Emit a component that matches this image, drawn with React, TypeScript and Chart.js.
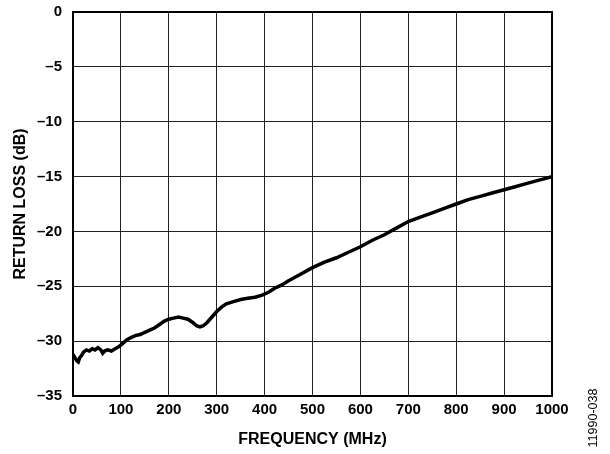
import React, { useEffect, useRef } from "react";
import { Chart, registerables } from "chart.js";

Chart.register(...registerables);

const freqMHz = [
  0, 4, 8, 11, 14, 18, 22, 28, 34, 40, 46, 52, 58, 62, 66, 72, 80, 88, 96, 104,
  112, 120, 130, 140, 150, 160, 170, 180, 190, 200, 210, 220, 230, 240, 250, 258,
  265, 272, 280, 290, 300, 310, 320, 335, 350, 365, 380, 395, 410, 420, 435, 450,
  475, 500, 525, 550, 575, 600, 625, 650, 675, 700, 725, 750, 775, 800, 825, 850,
  875, 900, 925, 950, 975, 1000,
];
const returnLossDb = [
  -31.2, -31.5, -31.8, -31.9, -31.5, -31.3, -31.0, -30.8, -30.9, -30.7, -30.8,
  -30.6, -30.8, -31.1, -30.9, -30.8, -30.9, -30.7, -30.5, -30.2, -29.9, -29.7,
  -29.5, -29.4, -29.2, -29.0, -28.8, -28.5, -28.2, -28.0, -27.9, -27.8, -27.9,
  -28.0, -28.3, -28.6, -28.7, -28.6, -28.3, -27.8, -27.3, -26.9, -26.6, -26.4,
  -26.2, -26.1, -26.0, -25.8, -25.5, -25.2, -24.9, -24.5, -23.9, -23.3, -22.8,
  -22.4, -21.9, -21.4, -20.8, -20.3, -19.7, -19.1, -18.7, -18.3, -17.9, -17.5,
  -17.1, -16.8, -16.5, -16.2, -15.9, -15.6, -15.3, -15.0,
];
const xTitle = "FREQUENCY (MHz)";
const yTitle = "RETURN LOSS (dB)";
const sideNote = "11990-038";

export default function App() {
  const ref = useRef<HTMLCanvasElement>(null);

  useEffect(() => {
    document.body.style.margin = "0";
    const canvas = ref.current;
    if (!canvas) return;
    const font = "'Liberation Sans', Arial, sans-serif";

    const framePlugin = {
      id: "frame",
      afterDatasetsDraw(chart: any) {
        const { ctx, chartArea } = chart;
        ctx.save();
        ctx.strokeStyle = "#000";
        ctx.lineWidth = 2;
        ctx.strokeRect(
          chartArea.left,
          chartArea.top,
          chartArea.right - chartArea.left,
          chartArea.bottom - chartArea.top
        );
        ctx.restore();
      },
      afterDraw(chart: any) {
        const { ctx } = chart;
        ctx.save();
        ctx.translate(594, 418);
        ctx.rotate(-Math.PI / 2);
        ctx.font = `12.5px ${font}`;
        ctx.fillStyle = "#000";
        ctx.textAlign = "center";
        ctx.textBaseline = "middle";
        ctx.fillText(sideNote, 0, 0);
        ctx.restore();
      },
    };

    const chart = new Chart(canvas, {
      type: "line",
      data: {
        datasets: [
          {
            data: freqMHz.map((f, i) => ({ x: f, y: returnLossDb[i] })),
            borderColor: "#000",
            borderWidth: 3.5,
            pointRadius: 0,
            tension: 0,
            fill: false,
          },
        ],
      },
      options: {
        responsive: false,
        animation: false,
        layout: { padding: { top: 12, right: 58, left: 0, bottom: 0 } },
        plugins: { legend: { display: false }, tooltip: { enabled: false } },
        scales: {
          x: {
            type: "linear",
            min: 0,
            max: 1000,
            afterFit: (s: any) => {
              s.height = 58;
              s.paddingLeft = 0;
              s.paddingRight = 0;
            },
            ticks: {
              stepSize: 100,
              padding: 5,
              color: "#000",
              font: { family: font, size: 15, weight: "bold" },
              maxRotation: 0,
              callback: (v: any) => String(v),
            },
            grid: { color: "#222", lineWidth: 1, drawTicks: false },
            border: { display: false },
            title: {
              display: true,
              text: xTitle,
              color: "#000",
              font: { family: font, size: 16, weight: "bold" },
              padding: { top: 0, bottom: 5 },
            },
          },
          y: {
            min: -35,
            max: 0,
            afterFit: (s: any) => {
              s.width = 73;
              s.paddingTop = 0;
              s.paddingBottom = 0;
            },
            ticks: {
              stepSize: 5,
              padding: 11,
              color: "#000",
              font: { family: font, size: 15, weight: "bold" },
              callback: (v: any) => (Number(v) < 0 ? "\u2013" + Math.abs(Number(v)) : String(v)),
            },
            grid: { color: "#222", lineWidth: 1, drawTicks: false },
            border: { display: false },
            title: {
              display: true,
              text: yTitle,
              color: "#000",
              font: { family: font, size: 16, weight: "bold" },
              padding: { top: 11, bottom: 0 },
            },
          },
        },
      },
      plugins: [framePlugin],
    });
    return () => chart.destroy();
  }, []);

  return <canvas ref={ref} width={610} height={454} style={{ display: "block" }} />;
}
